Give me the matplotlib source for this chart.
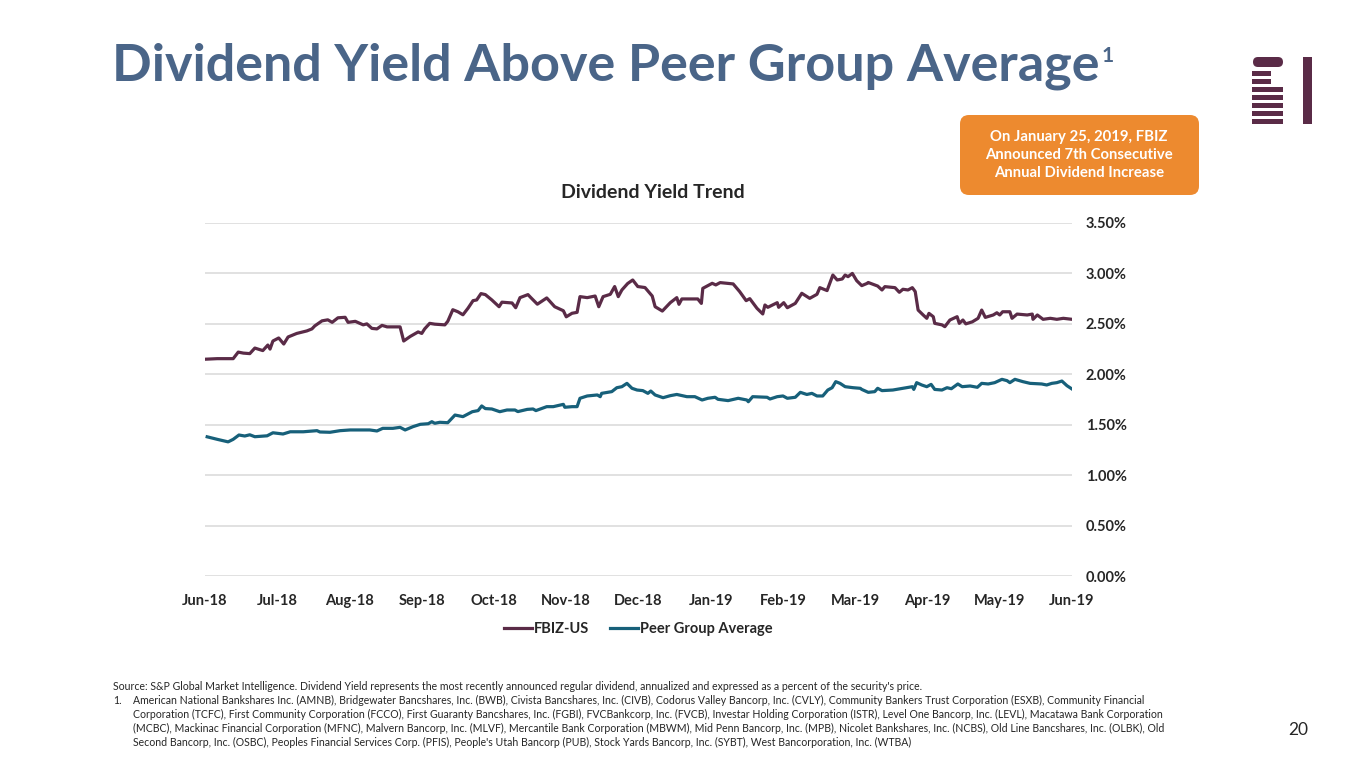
import matplotlib
matplotlib.use("Agg")
import matplotlib.pyplot as plt
import matplotlib.patches as patches

# months since Jun-18 (0 = Jun-18, 12 = Jun-19)
months = ["Jun-18", "Jul-18", "Aug-18", "Sep-18", "Oct-18", "Nov-18", "Dec-18",
          "Jan-19", "Feb-19", "Mar-19", "Apr-19", "May-19", "Jun-19"]
yticks = [0.0, 0.5, 1.0, 1.5, 2.0, 2.5, 3.0, 3.5]

fbiz_t = [0.02, 0.17, 0.39, 0.46, 0.53, 0.62, 0.69, 0.80, 0.87, 0.90, 0.94, 1.02, 1.09, 1.15,
          1.27, 1.41, 1.48, 1.52, 1.62, 1.70, 1.76, 1.84, 1.94, 1.98, 2.08, 2.19, 2.24, 2.31,
          2.38, 2.45, 2.52, 2.70, 2.75, 2.84, 2.95, 3.00, 3.04, 3.11, 3.18, 3.32, 3.36, 3.43,
          3.50, 3.57, 3.64, 3.71, 3.76, 3.82, 3.88, 3.97, 4.07, 4.11, 4.25, 4.30, 4.36, 4.47,
          4.51, 4.60, 4.73, 4.84, 4.96, 5.00, 5.08, 5.15, 5.19, 5.29, 5.40, 5.45, 5.51, 5.61,
          5.67, 5.72, 5.77, 5.85, 5.92, 5.99, 6.09, 6.19, 6.23, 6.33, 6.44, 6.53, 6.56, 6.60,
          6.82, 6.87, 6.89, 7.02, 7.07, 7.13, 7.31, 7.40, 7.49, 7.54, 7.64, 7.72, 7.75, 7.79,
          7.92, 7.94, 8.01, 8.06, 8.17, 8.26, 8.37, 8.47, 8.51, 8.61, 8.69, 8.75, 8.82, 8.86,
          8.90, 8.96, 9.02, 9.09, 9.16, 9.18, 9.31, 9.37, 9.41, 9.55, 9.61, 9.66, 9.73, 9.79,
          9.83, 9.87, 9.94, 9.99, 10.02, 10.08, 10.10, 10.20, 10.24, 10.31, 10.41, 10.44,
          10.49, 10.53, 10.62, 10.70, 10.75, 10.80, 10.91, 10.96, 11.00, 11.04, 11.14, 11.17,
          11.24, 11.38, 11.45, 11.46, 11.52, 11.60, 11.70, 11.79, 11.88, 12.00]
fbiz_y = [2.15, 2.155, 2.155, 2.22, 2.21, 2.205, 2.26, 2.235, 2.29, 2.25, 2.33, 2.36, 2.30, 2.37,
          2.405, 2.43, 2.45, 2.48, 2.53, 2.54, 2.515, 2.56, 2.565, 2.515, 2.525, 2.49, 2.50, 2.455,
          2.45, 2.485, 2.47, 2.47, 2.33, 2.375, 2.42, 2.405, 2.45, 2.505, 2.497, 2.49, 2.525, 2.64,
          2.62, 2.59, 2.655, 2.73, 2.737, 2.80, 2.79, 2.737, 2.67, 2.715, 2.707, 2.66, 2.76, 2.79,
          2.76, 2.695, 2.757, 2.67, 2.63, 2.57, 2.605, 2.614, 2.77, 2.76, 2.776, 2.67, 2.77, 2.793,
          2.87, 2.77, 2.836, 2.90, 2.935, 2.87, 2.86, 2.776, 2.67, 2.627, 2.71, 2.76, 2.694, 2.747,
          2.747, 2.703, 2.852, 2.902, 2.886, 2.909, 2.896, 2.82, 2.73, 2.75, 2.654, 2.598, 2.687, 2.664,
          2.71, 2.664, 2.71, 2.66, 2.703, 2.803, 2.753, 2.793, 2.859, 2.83, 2.984, 2.935, 2.945, 2.984,
          2.968, 3.00, 2.928, 2.879, 2.90, 2.91, 2.875, 2.836, 2.869, 2.859, 2.813, 2.843, 2.836, 2.859,
          2.82, 2.637, 2.588, 2.555, 2.604, 2.571, 2.505, 2.49, 2.472, 2.538, 2.571, 2.505,
          2.538, 2.50, 2.52, 2.555, 2.637, 2.564, 2.588, 2.61, 2.588, 2.62, 2.62, 2.555,
          2.597, 2.588, 2.597, 2.545, 2.588, 2.545, 2.555, 2.545, 2.555, 2.545]

peer_t = [0.03, 0.17, 0.32, 0.39, 0.47, 0.55, 0.62, 0.69, 0.86, 0.94, 1.08, 1.18, 1.36, 1.55,
          1.59, 1.73, 1.87, 2.01, 2.28, 2.38, 2.46, 2.60, 2.70, 2.77, 2.88, 2.98, 3.09, 3.14,
          3.18, 3.25, 3.36, 3.46, 3.57, 3.70, 3.78, 3.83, 3.88, 3.97, 4.08, 4.18, 4.29, 4.33,
          4.46, 4.54, 4.58, 4.73, 4.82, 4.96, 4.98, 5.08, 5.15, 5.19, 5.29, 5.43, 5.47, 5.49,
          5.63, 5.70, 5.77, 5.84, 5.91, 5.98, 6.06, 6.13, 6.17, 6.23, 6.34, 6.44, 6.53, 6.67,
          6.78, 6.88, 6.96, 7.06, 7.10, 7.24, 7.38, 7.50, 7.52, 7.58, 7.78, 7.82, 7.92, 8.00,
          8.06, 8.17, 8.24, 8.33, 8.40, 8.47, 8.55, 8.62, 8.68, 8.73, 8.79, 8.86, 8.97, 9.07,
          9.09, 9.18, 9.27, 9.31, 9.37, 9.52, 9.66, 9.79, 9.81, 9.85, 9.92, 9.99, 10.05, 10.10,
          10.20, 10.27, 10.33, 10.42, 10.48, 10.59, 10.69, 10.75, 10.84, 10.93, 11.03, 11.10,
          11.14, 11.21, 11.32, 11.42, 11.58, 11.65, 11.72, 11.79, 11.86, 11.93, 12.00]
peer_y = [1.38, 1.355, 1.33, 1.355, 1.398, 1.388, 1.40, 1.381, 1.39, 1.42, 1.408, 1.43, 1.43, 1.441,
          1.428, 1.425, 1.441, 1.448, 1.448, 1.438, 1.464, 1.464, 1.474, 1.448, 1.481, 1.504, 1.51, 1.53,
          1.514, 1.524, 1.52, 1.596, 1.58, 1.629, 1.64, 1.686, 1.66, 1.656, 1.629, 1.646, 1.646, 1.63,
          1.652, 1.656, 1.64, 1.679, 1.679, 1.702, 1.673, 1.679, 1.679, 1.762, 1.785, 1.795, 1.778, 1.811,
          1.828, 1.867, 1.877, 1.91, 1.861, 1.844, 1.838, 1.811, 1.834, 1.795, 1.768, 1.788, 1.80, 1.778,
          1.778, 1.745, 1.762, 1.772, 1.752, 1.739, 1.762, 1.745, 1.728, 1.778, 1.772, 1.755, 1.778, 1.785,
          1.762, 1.772, 1.821, 1.80, 1.811, 1.785, 1.785, 1.844, 1.867, 1.927, 1.91, 1.877, 1.867, 1.861,
          1.85, 1.821, 1.828, 1.861, 1.838, 1.844, 1.861, 1.877, 1.85, 1.917, 1.894, 1.877, 1.90, 1.85,
          1.844, 1.867, 1.857, 1.904, 1.877, 1.884, 1.871, 1.91, 1.904, 1.917, 1.95, 1.937,
          1.917, 1.95, 1.927, 1.91, 1.904, 1.894, 1.91, 1.917, 1.933, 1.887, 1.854]

footnote_src = "Source: S&P Global Market Intelligence. Dividend Yield represents the most recently announced regular dividend, annualized and expressed as a percent of the security's price."
footnote_1 = [
    "American National Bankshares Inc. (AMNB), Bridgewater Bancshares, Inc. (BWB), Civista Bancshares, Inc. (CIVB), Codorus Valley Bancorp, Inc. (CVLY), Community Bankers Trust Corporation (ESXB), Community Financial",
    "Corporation (TCFC), First Community Corporation (FCCO), First Guaranty Bancshares, Inc. (FGBI), FVCBankcorp, Inc. (FVCB), Investar Holding Corporation (ISTR), Level One Bancorp, Inc. (LEVL), Macatawa Bank Corporation",
    "(MCBC), Mackinac Financial Corporation (MFNC), Malvern Bancorp, Inc. (MLVF), Mercantile Bank Corporation (MBWM), Mid Penn Bancorp, Inc. (MPB), Nicolet Bankshares, Inc. (NCBS), Old Line Bancshares, Inc. (OLBK), Old",
    "Second Bancorp, Inc. (OSBC), Peoples Financial Services Corp. (PFIS), People's Utah Bancorp (PUB), Stock Yards Bancorp, Inc. (SYBT), West Bancorporation, Inc. (WTBA)",
]

PLUM = "#5a2b47"
TEAL = "#17607a"
TXT = "#262626"
plt.rcParams['font.family'] = ['Lato', 'DejaVu Sans']

W, H = 1365, 768
fig = plt.figure(figsize=(W / 100, H / 100), dpi=100)

# overlay in pixel coords for the slide stuff
ov = fig.add_axes([0, 0, 1, 1])
ov.set_xlim(0, W)
ov.set_ylim(H, 0)
ov.axis("off")

ov.text(112, 80, "Dividend Yield Above Peer Group Average", fontsize=37.5, fontweight="bold",
        color="#4a6588", ha="left", va="baseline")
ov.text(1102, 62, "1", fontsize=15, fontweight="bold", color="#4a6588", ha="left", va="baseline")

# logo
ov.add_patch(patches.FancyBboxPatch((1253, 57), 30, 10, boxstyle="round,pad=0,rounding_size=5",
                                    color=PLUM, lw=0))
for y0 in [71, 79]:
    ov.add_patch(patches.Rectangle((1252, y0), 19, 4.5, color=PLUM, lw=0))
for y0 in [87, 95, 103, 111, 119]:
    ov.add_patch(patches.Rectangle((1252, y0), 31, 4.5, color=PLUM, lw=0))
ov.add_patch(patches.Rectangle((1303, 57), 9, 67, color=PLUM, lw=0))

# orange call-out
ov.add_patch(patches.FancyBboxPatch((960, 115), 239, 80, boxstyle="round,pad=0,rounding_size=9",
                                    facecolor="#ed8a2f", edgecolor="none"))
ov.text(1079, 155, "On January 25, 2019, FBIZ\nAnnounced 7th Consecutive\nAnnual Dividend Increase",
        ha="center", va="center", color="white", fontsize=10.7, fontweight="bold", linespacing=1.4)

ov.text(653, 193, "Dividend Yield Trend", ha="center", va="center", fontsize=14,
        fontweight="bold", color=TXT)

# footnotes
fs = 7.6
ov.text(113, 687, footnote_src, fontsize=fs, color=TXT, ha="left", va="center")
ov.text(113, 700, "1.", fontsize=fs, color=TXT, ha="left", va="center")
for i, line in enumerate(footnote_1):
    ov.text(133, 700 + i * 14.2, line, fontsize=fs, color=TXT, ha="left", va="center")
ov.text(1298, 730, "20", fontsize=12.5, color=TXT, ha="center", va="center")

# the chart
ax = fig.add_axes([205 / W, 1 - 576 / H, (1072 - 205) / W, (576 - 223) / H])
ax.plot(fbiz_t, fbiz_y, color=PLUM, lw=2.3, label="FBIZ-US", solid_joinstyle="round")
ax.plot(peer_t, peer_y, color=TEAL, lw=2.3, label="Peer Group Average", solid_joinstyle="round")
ax.set_xlim(0, 12)
ax.set_ylim(0, 3.5)
ax.set_yticks(yticks)
ax.set_yticklabels(["%.2f%%" % v for v in yticks])
ax.set_xticks(range(len(months)))
ax.set_xticklabels(months)
ax.yaxis.tick_right()
ax.grid(axis="y", color="#d9d9d9", lw=1.1)
ax.set_axisbelow(True)
for s in ax.spines.values():
    s.set_visible(False)
ax.tick_params(length=0, labelsize=10.5, colors=TXT)
ax.tick_params(axis="y", pad=10)
ax.tick_params(axis="x", pad=13)
for lab in ax.get_xticklabels() + ax.get_yticklabels():
    lab.set_fontweight("bold")

leg = ax.legend(loc="center", bbox_to_anchor=(0.5, -0.15), ncol=2, frameon=False,
                handlelength=1.9, columnspacing=1.4, handletextpad=0.15,
                prop={"weight": "bold", "size": 10.5})
for t in leg.get_texts():
    t.set_color(TXT)

fig.savefig("out.png", dpi=100)
